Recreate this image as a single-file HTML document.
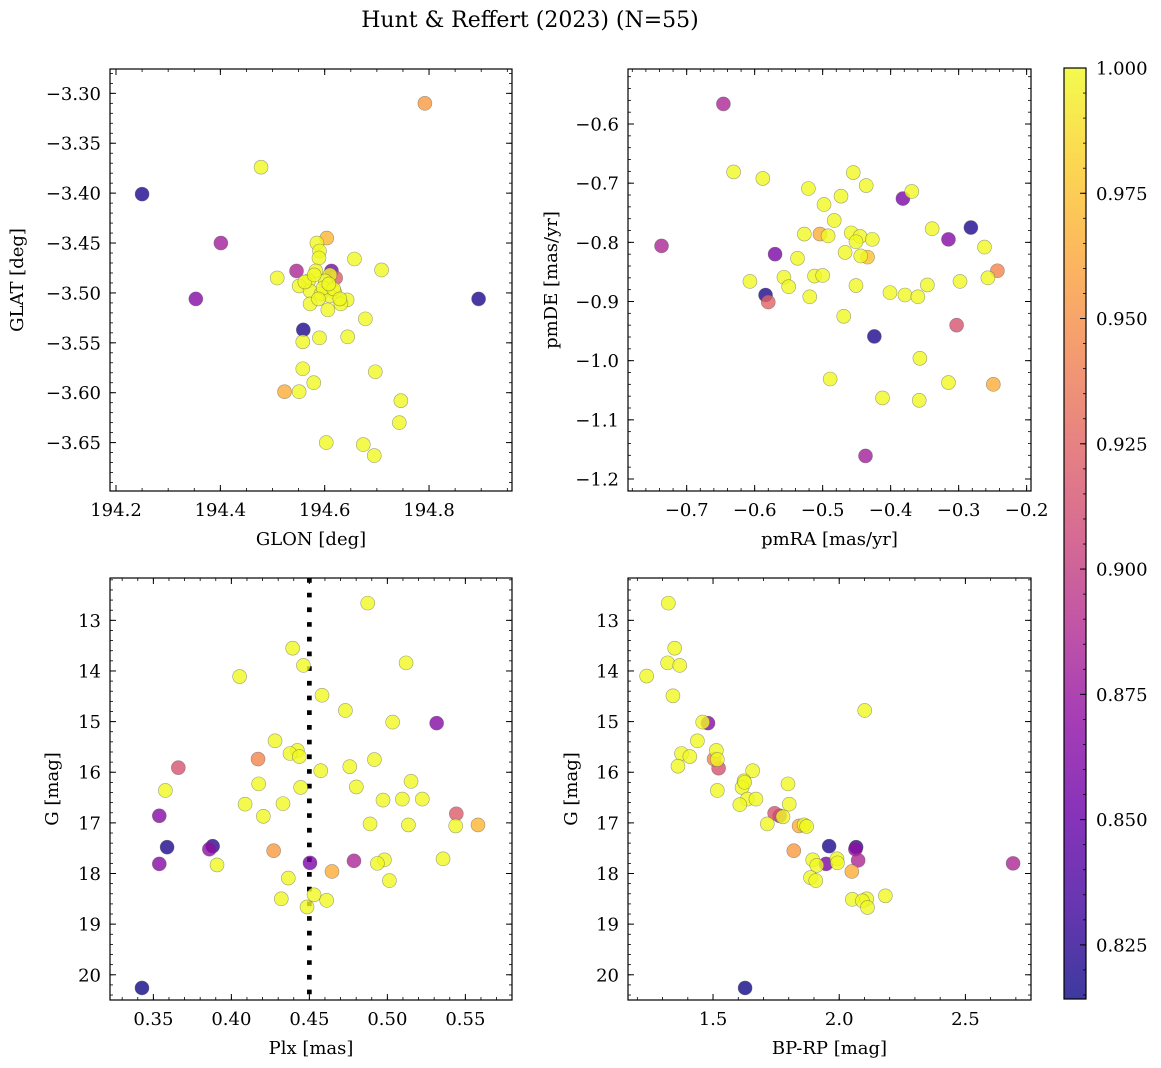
<!DOCTYPE html>
<html><head><meta charset="utf-8"><style>
html,body{margin:0;padding:0;background:#fff;}
svg{display:block;font-family:"DejaVu Serif","Liberation Serif",serif;}
</style></head><body>
<svg id="fig" width="1161" height="1068" viewBox="0 0 1161 1068" xmlns="http://www.w3.org/2000/svg">
<defs>
<linearGradient id="cbgrad" x1="0" y1="1" x2="0" y2="0">
<stop offset="0" stop-color="#0d0887"/><stop offset="0.1" stop-color="#41049d"/><stop offset="0.2" stop-color="#6a00a8"/><stop offset="0.3" stop-color="#8f0da4"/><stop offset="0.4" stop-color="#b12a90"/><stop offset="0.5" stop-color="#cc4778"/><stop offset="0.6" stop-color="#e16462"/><stop offset="0.7" stop-color="#f2844b"/><stop offset="0.8" stop-color="#fca636"/><stop offset="0.9" stop-color="#fcce25"/><stop offset="1" stop-color="#f0f921"/>
</linearGradient>
</defs>
<text x="530" y="27" font-size="22" text-anchor="middle">Hunt &amp; Reffert (2023) (N=55)</text>
</svg>
<script>
// ---- data arrays ----
const glon = [194.792,194.478,194.250,194.401,194.353,194.895,194.604,194.585,194.590,194.589,194.657,194.709,194.546,194.613,194.621,194.509,194.583,194.569,194.551,194.610,194.601,194.572,194.593,194.619,194.610,194.643,194.572,194.631,194.606,194.678,194.559,194.558,194.590,194.644,194.558,194.697,194.579,194.523,194.551,194.746,194.743,194.603,194.674,194.695,194.597,194.562,194.588,194.617,194.580,194.608,194.629];
const glat = [-3.310,-3.374,-3.401,-3.450,-3.506,-3.506,-3.445,-3.450,-3.458,-3.465,-3.466,-3.477,-3.478,-3.478,-3.485,-3.485,-3.478,-3.488,-3.493,-3.482,-3.488,-3.498,-3.501,-3.499,-3.503,-3.507,-3.511,-3.511,-3.517,-3.526,-3.537,-3.549,-3.545,-3.544,-3.576,-3.579,-3.590,-3.599,-3.599,-3.608,-3.630,-3.650,-3.652,-3.663,-3.495,-3.489,-3.506,-3.496,-3.482,-3.491,-3.506];
const probA = [0.955,1,0.82,0.88,0.865,0.82,0.97,1,1,1,1,1,0.885,0.86,0.92,1,1,1,1,1,1,1,1,1,1,1,1,1,1,1,0.82,1,1,1,1,1,1,0.965,1,1,1,1,1,1,1,1,1,1,1,1,1];

const pmra = [-0.646,-0.737,-0.631,-0.588,-0.521,-0.455,-0.436,-0.473,-0.498,-0.369,-0.382,-0.483,-0.527,-0.504,-0.492,-0.458,-0.445,-0.451,-0.427,-0.339,-0.282,-0.315,-0.262,-0.570,-0.537,-0.467,-0.444,-0.434,-0.607,-0.557,-0.550,-0.512,-0.500,-0.519,-0.584,-0.580,-0.451,-0.401,-0.379,-0.360,-0.346,-0.298,-0.257,-0.243,-0.469,-0.424,-0.303,-0.357,-0.489,-0.315,-0.249,-0.412,-0.358,-0.437];
const pmde = [-0.566,-0.806,-0.681,-0.692,-0.709,-0.682,-0.704,-0.722,-0.736,-0.714,-0.726,-0.763,-0.786,-0.786,-0.789,-0.784,-0.790,-0.799,-0.795,-0.777,-0.775,-0.795,-0.808,-0.820,-0.827,-0.817,-0.823,-0.825,-0.866,-0.859,-0.875,-0.857,-0.856,-0.892,-0.889,-0.901,-0.873,-0.885,-0.889,-0.892,-0.872,-0.866,-0.860,-0.848,-0.925,-0.959,-0.940,-0.996,-1.031,-1.037,-1.040,-1.063,-1.067,-1.161];
const probB = [0.885,0.885,1,1,1,1,1,1,1,1,0.86,1,1,0.965,1,1,1,1,1,1,0.82,0.865,1,0.86,1,1,1,0.975,1,1,1,1,1,1,0.82,0.925,1,1,1,1,1,1,1,0.945,1,0.82,0.915,1,1,1,0.965,1,1,0.88];

const plx = [0.4874,0.4393,0.5120,0.4462,0.4053,0.4581,0.4731,0.5034,0.5316,0.4280,0.4423,0.4376,0.4436,0.4171,0.4917,0.4759,0.3660,0.4573,0.5152,0.4175,0.4444,0.4801,0.3577,0.4972,0.5096,0.5224,0.4331,0.4088,0.4205,0.3538,0.5442,0.4889,0.5135,0.5438,0.5581,0.3588,0.3880,0.3859,0.4271,0.5357,0.4981,0.4786,0.4936,0.4504,0.3538,0.3908,0.4645,0.4365,0.5013,0.4320,0.4530,0.4611,0.4485,0.3427];
const gmagC = [12.66,13.55,13.84,13.89,14.11,14.48,14.78,15.01,15.03,15.38,15.57,15.63,15.69,15.74,15.75,15.89,15.91,15.97,16.18,16.23,16.30,16.29,16.36,16.55,16.53,16.53,16.62,16.63,16.87,16.86,16.82,17.02,17.04,17.06,17.04,17.48,17.46,17.52,17.55,17.71,17.73,17.75,17.80,17.79,17.81,17.83,17.96,18.09,18.14,18.50,18.42,18.53,18.66,20.26];
const probC = [1,1,1,1,1,1,1,1,0.865,1,1,1,1,0.945,1,1,0.915,1,1,1,1,1,1,1,1,1,1,1,1,0.865,0.92,1,1,1,0.97,0.82,0.825,0.87,0.955,1,1,0.885,1,0.86,0.865,1,0.965,1,1,1,1,1,1,0.815];

const bprp = [1.323,1.348,1.320,1.368,1.237,1.341,2.101,1.459,1.480,1.438,1.513,1.375,1.408,1.504,1.517,1.361,1.522,1.657,1.623,1.797,1.615,1.802,1.517,1.636,1.670,1.606,1.625,1.744,1.764,1.777,1.715,1.841,1.861,1.871,1.820,1.960,2.067,2.064,1.895,2.075,1.991,1.993,1.948,1.911,2.689,2.050,1.886,1.907,2.183,2.052,2.109,2.092,2.112,1.627];
const gmagD = [12.66,13.55,13.84,13.89,14.10,14.49,14.78,15.01,15.03,15.38,15.57,15.63,15.69,15.74,15.75,15.88,15.92,15.97,16.17,16.23,16.30,16.63,16.36,16.53,16.53,16.64,16.20,16.81,16.86,16.88,17.02,17.06,17.04,17.07,17.55,17.46,17.48,17.52,17.73,17.74,17.71,17.79,17.81,17.84,17.80,17.96,18.08,18.14,18.44,18.51,18.50,18.54,18.67,20.26];
const probD = [1,1,1,1,1,1,1,1,0.865,1,1,1,1,0.945,1,1,0.915,1,1,1,1,1,1,1,1,1,1,0.915,0.89,1,1,0.965,1,1,0.955,0.82,0.825,0.87,1,0.885,1,1,0.86,1,0.885,0.965,1,1,1,1,1,1,1,0.815];

const ticksGlon = [194.2,194.4,194.6,194.8];
const ticksGlat = [-3.30,-3.35,-3.40,-3.45,-3.50,-3.55,-3.60,-3.65];
const ticksPmra = [-0.7,-0.6,-0.5,-0.4,-0.3,-0.2];
const ticksPmde = [-0.6,-0.7,-0.8,-0.9,-1.0,-1.1,-1.2];
const ticksPlx = [0.35,0.40,0.45,0.50,0.55];
const ticksG = [13,14,15,16,17,18,19,20];
const ticksBprp = [1.5,2.0,2.5];
const ticksCbar = [0.825,0.850,0.875,0.900,0.925,0.950,0.975,1.000];
const plxCut = [0.45];
const cmin = 0.8142, cmax = 1.0;

// ---- helpers ----
const NS = "http://www.w3.org/2000/svg";
const svg = document.getElementById('fig');
const stops = [[13,8,135],[65,4,157],[106,0,168],[143,13,164],[177,42,144],[204,71,120],[225,100,98],[242,132,75],[252,166,54],[252,206,37],[240,249,33]];
function plasma(t){t=Math.max(0,Math.min(1,t));const f=t*10;const i=Math.min(9,Math.floor(f));const r=f-i;const a=stops[i],b=stops[i+1];return 'rgb('+a.map((v,k)=>Math.round(v+(b[k]-v)*r)).join(',')+')';}
function el(tag,attrs,parent){const e=document.createElementNS(NS,tag);for(const k in attrs)e.setAttribute(k,attrs[k]);(parent||svg).appendChild(e);return e;}
function fmt(v,d){return (v<0?'\u2212':'')+Math.abs(v).toFixed(d);}
const TF=18, LF=18;

function panel(cfg){
  const g=el('g',{});
  
  
  const X=v=>cfg.x0+(v-cfg.xmin)/(cfg.xmax-cfg.xmin)*cfg.w;
  const Y=cfg.inv? v=>cfg.y0+(v-cfg.ymin)/(cfg.ymax-cfg.ymin)*cfg.h : v=>cfg.y0+(cfg.ymax-v)/(cfg.ymax-cfg.ymin)*cfg.h;
  if(cfg.vline){cfg.vline.forEach(v=>{const l=el('line',{x1:X(v),x2:X(v),y1:cfg.y0,y2:cfg.y0+cfg.h,stroke:'#000','stroke-width':4.7,'stroke-dasharray':'4.7 10'},g);
    
    });}
  const idx=cfg.xs.map((_,i)=>i).sort((a,b)=>cfg.ps[a]-cfg.ps[b]);
  idx.forEach(i=>{const c=el('circle',{cx:X(cfg.xs[i]),cy:Y(cfg.ys[i]),r:7,fill:plasma((cfg.ps[i]-cmin)/(cmax-cmin)),'fill-opacity':0.8,stroke:'#555','stroke-opacity':0.55,'stroke-width':0.6},g);
    
    });
  el('rect',{x:cfg.x0,y:cfg.y0,width:cfg.w,height:cfg.h,fill:'none',stroke:'#000','stroke-width':1.2},g);
  const tx=el('g',{},g);
  
  
  const xs0=Math.ceil(cfg.xmin/cfg.xminor-1e-6), xs1=Math.floor(cfg.xmax/cfg.xminor+1e-6);
  for(let k=xs0;k<=xs1;k++){const x=X(k*cfg.xminor);el('line',{x1:x,x2:x,y1:cfg.y0+cfg.h,y2:cfg.y0+cfg.h-3,stroke:'#000','stroke-width':0.8},tx);el('line',{x1:x,x2:x,y1:cfg.y0,y2:cfg.y0+3,stroke:'#000','stroke-width':0.8},tx);}
  cfg.xt.forEach(v=>{const x=X(v);el('line',{x1:x,x2:x,y1:cfg.y0+cfg.h,y2:cfg.y0+cfg.h-6,stroke:'#000','stroke-width':1},tx);el('line',{x1:x,x2:x,y1:cfg.y0,y2:cfg.y0+6,stroke:'#000','stroke-width':1},tx);
    const t=el('text',{x:x,y:cfg.y0+cfg.h+25,'font-size':TF,'text-anchor':'middle'},tx);t.textContent=fmt(v,cfg.xd);
    
    });
  const ty=el('g',{},g);
  
  
  const lo=Math.min(cfg.ymin,cfg.ymax), hi=Math.max(cfg.ymin,cfg.ymax);
  const ys0=Math.ceil(lo/cfg.yminor-1e-6), ys1=Math.floor(hi/cfg.yminor+1e-6);
  for(let k=ys0;k<=ys1;k++){const y=Y(k*cfg.yminor);el('line',{x1:cfg.x0,x2:cfg.x0+3,y1:y,y2:y,stroke:'#000','stroke-width':0.8},ty);el('line',{x1:cfg.x0+cfg.w,x2:cfg.x0+cfg.w-3,y1:y,y2:y,stroke:'#000','stroke-width':0.8},ty);}
  cfg.yt.forEach(v=>{const y=Y(v);el('line',{x1:cfg.x0,x2:cfg.x0+6,y1:y,y2:y,stroke:'#000','stroke-width':1},ty);el('line',{x1:cfg.x0+cfg.w,x2:cfg.x0+cfg.w-6,y1:y,y2:y,stroke:'#000','stroke-width':1},ty);
    const t=el('text',{x:cfg.x0-9,y:y+6.5,'font-size':TF,'text-anchor':'end'},ty);t.textContent=fmt(v,cfg.yd);
    
    });
  const xl=el('text',{x:cfg.x0+cfg.w/2,y:cfg.y0+cfg.h+54,'font-size':LF,'text-anchor':'middle'},g);xl.textContent=cfg.xlabel;
  
  
  const yl=el('text',{x:0,y:0,'font-size':LF,'text-anchor':'middle',transform:'translate('+cfg.ylx+','+(cfg.y0+cfg.h/2)+') rotate(-90)'},g);yl.textContent=cfg.ylabel;
  
  
}

panel({name:'glon-glat-panel',x0:110,y0:69,w:402,h:422,xmin:194.1885,xmax:194.959,ymin:-3.6985,ymax:-3.2756,xs:glon,ys:glat,ps:probA,xt:ticksGlon,yt:ticksGlat,xd:1,yd:2,xminor:0.05,yminor:0.01,xlabel:'GLON [deg]',ylabel:'GLAT [deg]',ylx:23});
panel({name:'proper-motion-panel',x0:628,y0:69,w:403,h:422,xmin:-0.7863,xmax:-0.1936,ymin:-1.2203,ymax:-0.5070,xs:pmra,ys:pmde,ps:probB,xt:ticksPmra,yt:ticksPmde,xd:1,yd:1,xminor:0.02,yminor:0.02,xlabel:'pmRA [mas/yr]',ylabel:'pmDE [mas/yr]',ylx:557});
panel({name:'plx-g-panel',x0:110,y0:578,w:402,h:422,inv:true,xmin:0.3222,xmax:0.5799,ymin:12.164,ymax:20.498,xs:plx,ys:gmagC,ps:probC,xt:ticksPlx,yt:ticksG,xd:2,yd:0,xminor:0.01,yminor:0.2,xlabel:'Plx [mas]',ylabel:'G [mag]',ylx:58,vline:plxCut});
panel({name:'cmd-panel',x0:628,y0:578,w:403,h:422,inv:true,xmin:1.163,xmax:2.760,ymin:12.164,ymax:20.498,xs:bprp,ys:gmagD,ps:probD,xt:ticksBprp,yt:ticksG,xd:1,yd:0,xminor:0.1,yminor:0.2,xlabel:'BP-RP [mag]',ylabel:'G [mag]',ylx:577});

const cb=el('g',{});


const cbx=1064, cby=68, cbw=22, cbh=931;
el('rect',{x:cbx,y:cby,width:cbw,height:cbh,fill:'url(#cbgrad)','fill-opacity':0.8},cb);
el('rect',{x:cbx,y:cby,width:cbw,height:cbh,fill:'none',stroke:'#000','stroke-width':1.2},cb);
const CY=v=>cby+(cmax-v)/(cmax-cmin)*cbh;
for(let k=Math.ceil(cmin/0.005);k<=200;k++){const y=CY(k*0.005);el('line',{x1:cbx+cbw,x2:cbx+cbw-3,y1:y,y2:y,stroke:'#000','stroke-width':0.8},cb);}
ticksCbar.forEach(v=>{const y=CY(v);el('line',{x1:cbx+cbw,x2:cbx+cbw-6,y1:y,y2:y,stroke:'#000','stroke-width':1},cb);
  const t=el('text',{x:1096,y:y+6.5,'font-size':TF},cb);t.textContent=v.toFixed(3);
  
  });
</script>
</body></html>
